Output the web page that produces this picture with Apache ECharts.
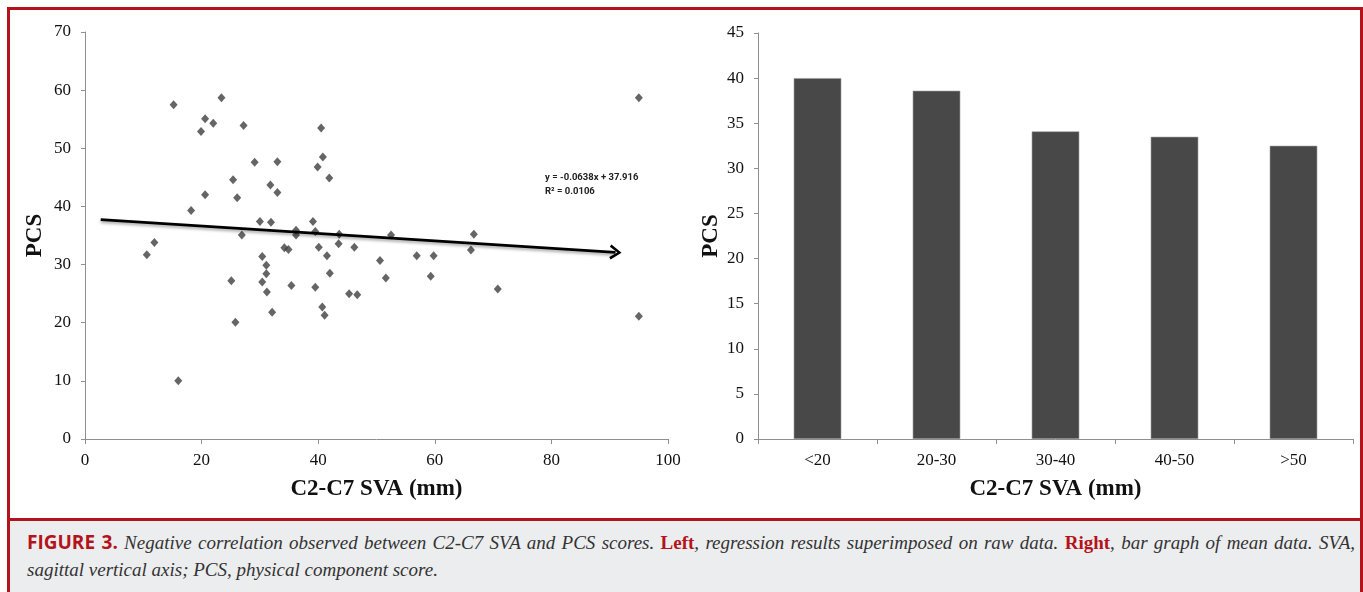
<!DOCTYPE html>
<html><head><meta charset="utf-8">
<script src="https://cdn.jsdelivr.net/npm/echarts@6/dist/echarts.min.js"></script>
<style>
html,body{margin:0;padding:0;width:1363px;height:592px;overflow:hidden;background:#fff;}
#chart{position:absolute;left:0;top:0;width:1363px;height:592px;}
#frame{position:absolute;left:7px;top:7px;width:1350px;height:600px;border:3px solid #b3131a;border-bottom:none;pointer-events:none;}
#caption{position:absolute;left:10px;top:518px;width:1350px;height:74px;background:#ecedef;border-top:3px solid #b3131a;box-sizing:border-box;padding:8px 5px 0 17px;font-family:"Liberation Serif",serif;font-style:italic;font-size:19px;color:#333;line-height:27px;}
#caption .l1{text-align:justify;text-align-last:justify;white-space:nowrap;}
#caption .fig{font-family:"Open Sans",sans-serif;font-style:normal;font-weight:700;color:#b3131a;font-size:19px;}
#caption b{font-style:normal;color:#b3131a;}
</style></head>
<body>
<div id="chart"></div>
<div id="frame"></div>
<div id="caption">
<div class="l1"><span class="fig">FIGURE 3.</span> Negative correlation observed between C2-C7 SVA and PCS scores. <b>Left</b>, regression results superimposed on raw data. <b>Right</b>, bar graph of mean data. SVA,</div>
<div>sagittal vertical axis; PCS, physical component score.</div>
</div>
<script>
// ---- data ----
const svaValues = [10.6,11.9,15.2,16.0,18.2,19.9,20.6,20.6,22.0,23.4,25.1,25.4,25.8,26.1,26.9,27.2,29.1,30.0,30.4,30.4,31.1,31.1,31.2,31.8,31.9,32.1,33.0,33.0,34.2,34.9,35.4,36.2,36.2,39.1,39.5,39.5,39.9,40.1,40.5,40.7,40.8,41.1,41.5,41.9,42.0,43.5,43.6,45.3,46.2,46.7,50.6,51.6,52.5,56.9,59.3,59.8,66.2,66.7,70.8,95.0,95.0];
const pcsValues = [31.7,33.8,57.5,10.0,39.3,52.9,55.1,42.0,54.3,58.7,27.2,44.6,20.1,41.5,35.1,53.9,47.6,37.4,31.4,27.0,29.9,28.4,25.3,43.7,37.3,21.8,47.7,42.4,32.9,32.6,26.4,35.9,35.1,37.4,35.7,26.1,46.8,33.0,53.5,22.7,48.5,21.3,31.5,44.9,28.5,33.6,35.2,25.0,33.0,24.8,30.7,27.7,35.1,31.5,28.0,31.5,32.5,35.2,25.8,58.7,21.1];
const barCategories = ['<20','20-30','30-40','40-50','>50'];
const barMeans = [40.0, 38.6, 34.1, 33.5, 32.5];
const trendSlope = -0.0638;
const trendIntercept = 37.916;
const trendXStart = 2.7;
const trendXEnd = 91.0;
const equationLines = ['y = -0.0638x + 37.916', 'R\u00B2 = 0.0106'];
const leftXTicks = {min: 0, max: 100, interval: 20};
const leftYTicks = {min: 0, max: 70, interval: 10};
const rightYTicks = {min: 0, max: 45, interval: 5};

// ---- chart ----
const points = svaValues.map((x, i) => [x, pcsValues[i]]);
const trendY = x => trendSlope * x + trendIntercept;

const axisLineStyle = {lineStyle: {color: '#8f8f8f', width: 1}};
const axisTickStyle = {show: true, inside: false, length: 5, lineStyle: {color: '#8f8f8f'}};
const labelStyle = {fontFamily: 'Liberation Serif', fontSize: 17, color: '#111'};
const nameStyle = {fontFamily: 'Liberation Serif', fontWeight: 'bold', fontSize: 23, color: '#111'};
const chevron = 'path://M0,10 L5,0 L10,10 L8.4,11.4 L5,3.9 L1.6,11.4 Z';

const chart = echarts.init(document.getElementById('chart'), null, {renderer: 'canvas'});
chart.setOption({
  animation: false,
  backgroundColor: '#fff',
  grid: [
    {left: 85, top: 32, width: 583, height: 407},
    {left: 758, top: 33, width: 595, height: 406}
  ],
  xAxis: [
    {gridIndex: 0, type: 'value', min: leftXTicks.min, max: leftXTicks.max, interval: leftXTicks.interval,
     axisLine: axisLineStyle, axisTick: axisTickStyle, splitLine: {show: false},
     axisLabel: Object.assign({margin: 13}, labelStyle),
     name: 'C2-C7 SVA (mm)', nameLocation: 'middle', nameGap: 39, nameTextStyle: nameStyle},
    {gridIndex: 1, type: 'category', data: barCategories,
     axisLine: axisLineStyle, axisTick: Object.assign({alignWithLabel: false}, axisTickStyle), splitLine: {show: false},
     axisLabel: Object.assign({margin: 13}, labelStyle),
     name: 'C2-C7 SVA (mm)', nameLocation: 'middle', nameGap: 39, nameTextStyle: nameStyle}
  ],
  yAxis: [
    {gridIndex: 0, type: 'value', min: leftYTicks.min, max: leftYTicks.max, interval: leftYTicks.interval,
     axisLine: Object.assign({show: true}, axisLineStyle), axisTick: Object.assign({}, axisTickStyle, {length: 4}), splitLine: {show: false},
     axisLabel: Object.assign({margin: 14}, labelStyle),
     name: 'PCS', nameLocation: 'middle', nameRotate: 90, nameGap: 38, nameTextStyle: nameStyle},
    {gridIndex: 1, type: 'value', min: rightYTicks.min, max: rightYTicks.max, interval: rightYTicks.interval,
     axisLine: Object.assign({show: true}, axisLineStyle), axisTick: Object.assign({}, axisTickStyle, {length: 4}), splitLine: {show: false},
     axisLabel: Object.assign({margin: 14}, labelStyle),
     name: 'PCS', nameLocation: 'middle', nameRotate: 90, nameGap: 35, nameTextStyle: nameStyle}
  ],
  series: [
    {type: 'scatter', xAxisIndex: 0, yAxisIndex: 0, data: points,
     symbol: 'diamond', symbolSize: [8, 9], itemStyle: {color: '#3f3f3f'}, silent: true,
     markLine: {
       silent: true, animation: false, symbolSize: [15, 12],
       label: {show: false},
       lineStyle: {color: '#000', width: 2.8, type: 'solid', shadowColor: 'rgba(0,0,0,0.35)', shadowBlur: 3, shadowOffsetY: 2},
       data: [[
         {coord: [trendXStart, trendY(trendXStart)], symbol: 'none'},
         {coord: [trendXEnd, trendY(trendXEnd)], symbol: chevron}
       ]]
     }},
    {type: 'bar', xAxisIndex: 1, yAxisIndex: 1, data: barMeans, barWidth: '40%', silent: true,
     itemStyle: {color: '#484848', borderColor: '#a0a0a0', borderWidth: 0.6}}
  ],
  graphic: [
    {type: 'text', left: 545, top: 173, style: {text: equationLines[0], fontFamily: 'Roboto', fontSize: 9.5, fontWeight: 'bold', fill: '#222'}},
    {type: 'text', left: 545, top: 187, style: {text: equationLines[1], fontFamily: 'Roboto', fontSize: 9.5, fontWeight: 'bold', fill: '#222'}}
  ]
});
</script>
</body></html>
